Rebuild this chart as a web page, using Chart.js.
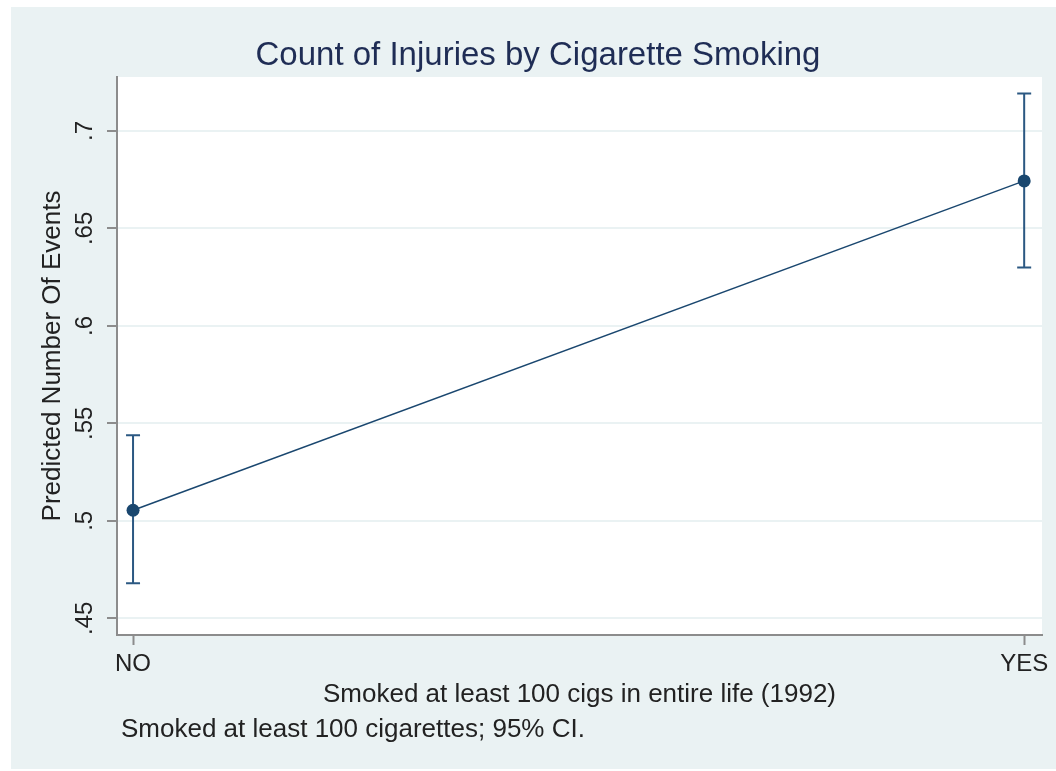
<!DOCTYPE html>
<html>
<head>
<meta charset="utf-8">
<script src="https://cdn.jsdelivr.net/npm/chart.js@4/dist/chart.umd.min.js"></script>
<style>
  html, body { margin: 0; padding: 0; background: #ffffff; }
  #wrap { position: relative; width: 1056px; height: 771px; }
</style>
</head>
<body>
<div id="wrap"><canvas id="chart"></canvas></div>
<script>
// smoked at least 100 cigarettes: NO / YES
const categories = ['NO', 'YES'];
const predicted = [0.5054, 0.6744];
const ciLower = [0.4679, 0.6300];
const ciUpper = [0.5439, 0.7192];
const yTicks = [0.45, 0.5, 0.55, 0.6, 0.65, 0.7];

const titleText = 'Count of Injuries by Cigarette Smoking';
const xTitle = 'Smoked at least 100 cigs in entire life (1992)';
const yTitle = 'Predicted Number Of Events';
const captionText = 'Smoked at least 100 cigarettes; 95% CI.';

const navy = '#1a476f';
const regionBg = '#eaf2f3';
const fontFamily = '"Liberation Sans", Arial, Helvetica, sans-serif';

// stata style label: .45, .5, .7
const fmt = v => String(+v.toFixed(2)).replace(/^0\./, '.');

const backgroundPlugin = {
    id: 'stataBackground',
    beforeDraw(chart) {
        const { ctx, chartArea } = chart;
        ctx.save();
        ctx.fillStyle = '#ffffff';
        ctx.fillRect(0, 0, chart.width, chart.height);
        ctx.fillStyle = regionBg;
        ctx.fillRect(11, 7, chart.width - 11, chart.height - 9);
        ctx.fillStyle = '#ffffff';
        ctx.fillRect(chartArea.left, chartArea.top, chartArea.right - chartArea.left, chartArea.bottom - chartArea.top);
        ctx.restore();
    }
};

const errorBarPlugin = {
    id: 'ciBars',
    beforeDatasetsDraw(chart) {
        const { ctx, scales: { x, y } } = chart;
        ctx.save();
        ctx.strokeStyle = '#2b5882';
        ctx.lineWidth = 2;
        categories.forEach((c, i) => {
            const px = x.getPixelForValue(i);
            const top = y.getPixelForValue(ciUpper[i]);
            const bot = y.getPixelForValue(ciLower[i]);
            ctx.beginPath();
            ctx.moveTo(px, top);
            ctx.lineTo(px, bot);
            ctx.moveTo(px - 7, top);
            ctx.lineTo(px + 7, top);
            ctx.moveTo(px - 7, bot);
            ctx.lineTo(px + 7, bot);
            ctx.stroke();
        });
        ctx.restore();
    }
};

const textPlugin = {
    id: 'titleCaption',
    afterDraw(chart) {
        const { ctx } = chart;
        ctx.save();
        ctx.fillStyle = '#1f2d55';
        ctx.font = '33px ' + fontFamily;
        ctx.textAlign = 'center';
        ctx.textBaseline = 'alphabetic';
        ctx.fillText(titleText, 538, 65);
        ctx.fillStyle = '#222222';
        ctx.font = '26px ' + fontFamily;
        ctx.textAlign = 'left';
        ctx.fillText(captionText, 121, 737);
        ctx.restore();
    }
};

new Chart(document.getElementById('chart'), {
    type: 'line',
    data: {
        datasets: [{
            data: categories.map((c, i) => ({ x: i, y: predicted[i] })),
            borderColor: navy,
            borderWidth: 1.5,
            backgroundColor: navy,
            pointBackgroundColor: navy,
            pointBorderColor: navy,
            pointRadius: 6.5,
            pointBorderWidth: 0,
            tension: 0,
            fill: false
        }]
    },
    options: {
        responsive: true,
        maintainAspectRatio: false,
        animation: false,
        layout: { padding: { left: 0, top: 77, right: 14, bottom: 0 } },
        plugins: {
            legend: { display: false },
            tooltip: { enabled: false }
        },
        scales: {
            x: {
                type: 'linear',
                min: -0.018,
                max: 1.02,
                afterBuildTicks: s => { s.ticks = categories.map((c, i) => ({ value: i })); },
                afterFit: s => { s.height = 136; },
                ticks: {
                    callback: v => categories[v],
                    color: '#222222',
                    font: { family: fontFamily, size: 24 },
                    padding: 5,
                    maxRotation: 0,
                    autoSkip: false
                },
                grid: {
                    drawOnChartArea: false,
                    drawTicks: true,
                    tickLength: 10,
                    tickColor: '#8c8c8c',
                    tickWidth: 2
                },
                border: { color: '#8c8c8c', width: 2 },
                title: {
                    display: true,
                    text: xTitle,
                    color: '#222222',
                    font: { family: fontFamily, size: 26 },
                    padding: { top: 0, bottom: 61 }
                }
            },
            y: {
                min: 0.4414,
                max: 0.7277,
                afterBuildTicks: s => { s.ticks = yTicks.map(v => ({ value: v })); },
                afterFit: s => { s.width = 117; },
                ticks: {
                    callback: v => fmt(v),
                    color: '#222222',
                    font: { family: fontFamily, size: 24 },
                    padding: 5,
                    minRotation: 90,
                    maxRotation: 90,
                    crossAlign: 'center'
                },
                grid: {
                    color: regionBg,
                    lineWidth: 2,
                    drawTicks: true,
                    tickLength: 10,
                    tickColor: '#8c8c8c',
                    tickWidth: 2
                },
                border: { color: '#8c8c8c', width: 2 },
                title: {
                    display: true,
                    text: yTitle,
                    color: '#222222',
                    font: { family: fontFamily, size: 26 },
                    padding: { top: 37, bottom: 0 }
                }
            }
        }
    },
    plugins: [backgroundPlugin, errorBarPlugin, textPlugin]
});
</script>
</body>
</html>
